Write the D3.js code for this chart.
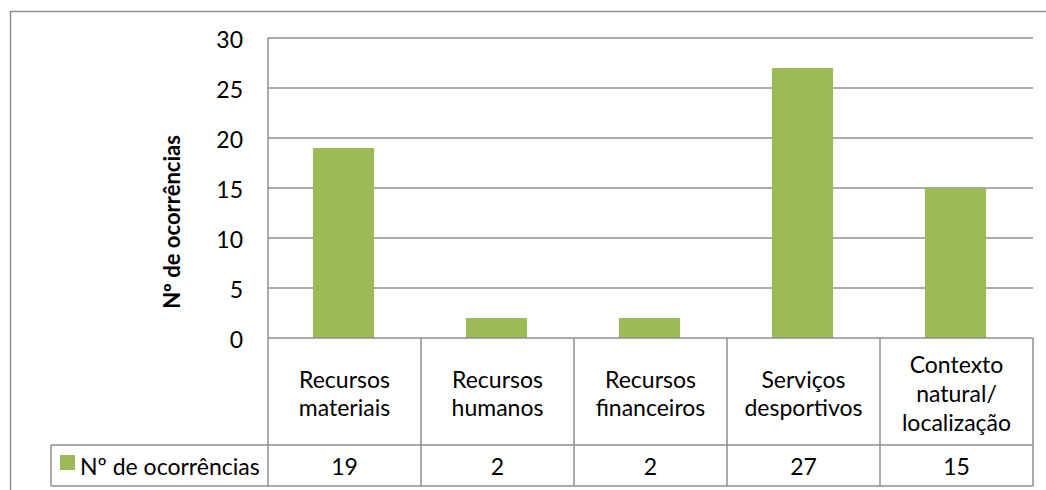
<!DOCTYPE html>
<html>
<head>
<meta charset="utf-8">
<script src="https://cdn.jsdelivr.net/npm/d3@7"></script>
<style>
  html, body { margin: 0; padding: 0; background: #fff; }
  svg { display: block; font-family: Lato, "Liberation Sans", sans-serif; }
</style>
</head>
<body>
<div id="chart"></div>
<script>
// chart data
const categories = [
    ["Recursos", "materiais"],
    ["Recursos", "humanos"],
    ["Recursos", "financeiros"],
    ["Serviços", "desportivos"],
    ["Contexto", "natural/", "localização"]
];
const values = [19, 2, 2, 27, 15];
const yTicks = [0, 5, 10, 15, 20, 25, 30];
const seriesName = "Nº de ocorrências";

const width = 1046, height = 490;
const gridColor = "#8e8e8e";
const barColor = "#9bbb59";

// plot area + data table layout
const plot = { left: 268, right: 1033, top: 38, bottom: 338 };
const tableCatBottom = 445;
const tableBottom = 486;
const legendLeft = 51;

const svg = d3.select("#chart").append("svg")
    .attr("width", width)
    .attr("height", height);

// outer chart border (runs off right/bottom edges)
svg.append("rect")
    .attr("x", 10.5).attr("y", 11.5)
    .attr("width", width + 20).attr("height", height + 20)
    .attr("fill", "none")
    .attr("stroke", gridColor)
    .attr("stroke-width", 1.5);

const idx = d3.range(categories.length);
const x = d3.scaleBand()
    .domain(idx)
    .range([plot.left, plot.right])
    .padding(0);

const y = d3.scaleLinear()
    .domain([0, 30])
    .range([plot.bottom, plot.top]);

// gridlines
svg.append("g")
    .selectAll("line")
    .data(yTicks.filter((t) => t > 0))
    .join("line")
    .attr("x1", plot.left).attr("x2", plot.right)
    .attr("y1", (d) => y(d)).attr("y2", (d) => y(d))
    .attr("stroke", gridColor)
    .attr("stroke-width", 1.5);

// tick labels
svg.append("g")
    .selectAll("text")
    .data(yTicks)
    .join("text")
    .attr("x", 243)
    .attr("y", (d) => y(d) + 2)
    .attr("dy", "0.36em")
    .attr("text-anchor", "end")
    .attr("font-size", 23)
    .attr("fill", "#000")
    .text((d) => d);

// axis title
svg.append("text")
    .attr("transform", "translate(180,222) rotate(-90)")
    .attr("text-anchor", "middle")
    .attr("font-size", 22)
    .attr("font-weight", "bold")
    .attr("fill", "#000")
    .text(seriesName);

// bars
const barW = x.bandwidth() * 0.4;
svg.append("g")
    .selectAll("rect")
    .data(values)
    .join("rect")
    .attr("x", (d, i) => x(i) + (x.bandwidth() - barW) / 2 - 1)
    .attr("y", (d) => y(d))
    .attr("width", barW)
    .attr("height", (d) => y(0) - y(d))
    .attr("fill", barColor);

// data table lines
const tbl = svg.append("g")
    .attr("stroke", gridColor)
    .attr("stroke-width", 1.5);

// value axis line down through table
tbl.append("line")
    .attr("x1", plot.left).attr("x2", plot.left)
    .attr("y1", plot.top).attr("y2", tableBottom);
tbl.append("line")
    .attr("x1", plot.left).attr("x2", plot.right)
    .attr("y1", y(0)).attr("y2", y(0));
tbl.selectAll("line.row")
    .data([tableCatBottom, tableBottom])
    .join("line")
    .attr("class", "row")
    .attr("x1", legendLeft).attr("x2", plot.right)
    .attr("y1", (d) => d).attr("y2", (d) => d);
tbl.selectAll("line.col")
    .data(idx)
    .join("line")
    .attr("class", "col")
    .attr("x1", (d) => x(d) + x.bandwidth()).attr("x2", (d) => x(d) + x.bandwidth())
    .attr("y1", plot.bottom).attr("y2", tableBottom);
tbl.append("line")
    .attr("x1", legendLeft).attr("x2", legendLeft)
    .attr("y1", tableCatBottom).attr("y2", tableBottom);

// category labels
const lineH = 28.7;
const catMid = 402;
svg.append("g")
    .selectAll("text")
    .data(categories)
    .join("text")
    .attr("text-anchor", "middle")
    .attr("font-size", 23)
    .attr("fill", "#000")
    .each(function (lines, i) {
        const cx = x(i) + x.bandwidth() / 2;
        d3.select(this).selectAll("tspan")
            .data(lines)
            .join("tspan")
            .attr("x", cx)
            .attr("y", (d, j) => catMid + (j - (lines.length - 1) / 2) * lineH)
            .text((d) => d);
    });

// values row
svg.append("g")
    .selectAll("text")
    .data(values)
    .join("text")
    .attr("x", (d, i) => x(i) + x.bandwidth() / 2)
    .attr("y", 475)
    .attr("text-anchor", "middle")
    .attr("font-size", 23)
    .attr("fill", "#000")
    .text((d) => d);

// legend key in table
svg.append("rect")
    .attr("x", 60).attr("y", 455)
    .attr("width", 15).attr("height", 15)
    .attr("fill", barColor);
svg.append("text")
    .attr("x", 80).attr("y", 475)
    .attr("font-size", 23)
    .attr("fill", "#000")
    .text(seriesName);
</script>
</body>
</html>
